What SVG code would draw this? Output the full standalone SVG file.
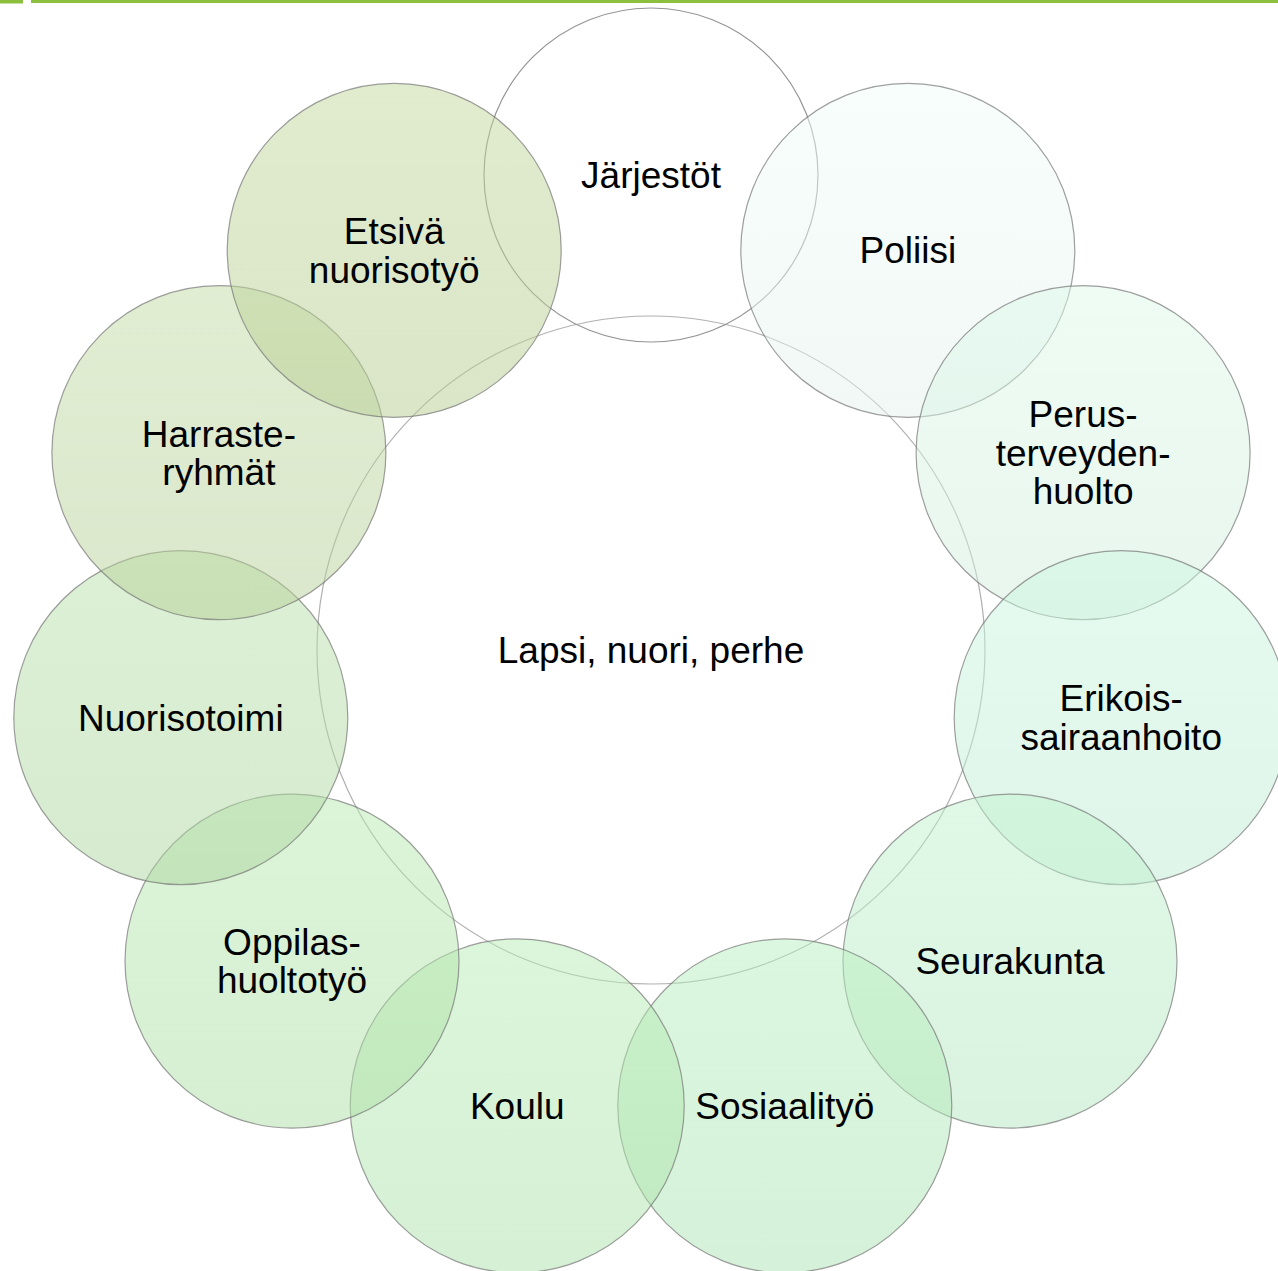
<svg xmlns="http://www.w3.org/2000/svg" width="1278" height="1271" viewBox="0 0 1278 1271">
<style>
.bg{fill:#ffffff}
.center{fill:none;stroke:#b0b0b0;stroke-width:1.2}
.node{stroke:#767676;stroke-opacity:0.7;stroke-width:1.2;fill-opacity:0.5}
.n0{fill:none;stroke:#949494;stroke-opacity:1}
.lbl{font-family:"Liberation Sans",Arial,sans-serif;font-size:37px;fill:#000000;text-anchor:middle}
.bar{fill:#8cbf3e}
</style>
<defs>
<linearGradient id="g1" x1="0" y1="0" x2="0" y2="1"><stop offset="0" stop-color="#effdf9"/><stop offset="1" stop-color="#e3f1ed"/></linearGradient>
<linearGradient id="g2" x1="0" y1="0" x2="0" y2="1"><stop offset="0" stop-color="#ddf9e9"/><stop offset="1" stop-color="#d1eddd"/></linearGradient>
<linearGradient id="g3" x1="0" y1="0" x2="0" y2="1"><stop offset="0" stop-color="#cdf7df"/><stop offset="1" stop-color="#c1ebd3"/></linearGradient>
<linearGradient id="g4" x1="0" y1="0" x2="0" y2="1"><stop offset="0" stop-color="#c1f3cf"/><stop offset="1" stop-color="#b5e7c3"/></linearGradient>
<linearGradient id="g5" x1="0" y1="0" x2="0" y2="1"><stop offset="0" stop-color="#b9efbf"/><stop offset="1" stop-color="#ade3b3"/></linearGradient>
<linearGradient id="g6" x1="0" y1="0" x2="0" y2="1"><stop offset="0" stop-color="#b7edb5"/><stop offset="1" stop-color="#abe1a9"/></linearGradient>
<linearGradient id="g7" x1="0" y1="0" x2="0" y2="1"><stop offset="0" stop-color="#b9e9b1"/><stop offset="1" stop-color="#addda5"/></linearGradient>
<linearGradient id="g8" x1="0" y1="0" x2="0" y2="1"><stop offset="0" stop-color="#b9e2ab"/><stop offset="1" stop-color="#add69f"/></linearGradient>
<linearGradient id="g9" x1="0" y1="0" x2="0" y2="1"><stop offset="0" stop-color="#c3dca5"/><stop offset="1" stop-color="#b7d099"/></linearGradient>
<linearGradient id="g10" x1="0" y1="0" x2="0" y2="1"><stop offset="0" stop-color="#c3d99f"/><stop offset="1" stop-color="#b7cd93"/></linearGradient>
</defs>
<rect class="bg" x="0" y="0" width="1278" height="1271"/>
<g id="header">
<rect class="bar" x="0" y="0" width="23" height="3.5"/>
<rect class="bar" x="31" y="0" width="1247" height="3"/>
</g>
<g id="connectors"></g>
<g id="center-node">
<circle class="center" cx="651" cy="650" r="334"/>
<text class="lbl" x="651" y="663">Lapsi, nuori, perhe</text>
</g>
<g id="node-jarjestot">
<circle class="node n0" cx="651" cy="175" r="167"/>
<text class="lbl" x="651" y="188">Järjestöt</text>
</g>
<g id="node-poliisi">
<circle class="node" fill="url(#g1)" cx="907.8" cy="250.4" r="167"/>
<text class="lbl" x="907.8" y="263.4">Poliisi</text>
</g>
<g id="node-perusterveydenhuolto">
<circle class="node" fill="url(#g2)" cx="1083.1" cy="452.7" r="167"/>
<text class="lbl" x="1083.1" y="427.2">Perus-</text>
<text class="lbl" x="1083.1" y="465.7">terveyden-</text>
<text class="lbl" x="1083.1" y="504.2">huolto</text>
</g>
<g id="node-erikoissairaanhoito">
<circle class="node" fill="url(#g3)" cx="1121.2" cy="717.6" r="167"/>
<text class="lbl" x="1121.2" y="711.4">Erikois-</text>
<text class="lbl" x="1121.2" y="749.9">sairaanhoito</text>
</g>
<g id="node-seurakunta">
<circle class="node" fill="url(#g4)" cx="1010" cy="961.1" r="167"/>
<text class="lbl" x="1010" y="974.1">Seurakunta</text>
</g>
<g id="node-sosiaalityo">
<circle class="node" fill="url(#g5)" cx="784.8" cy="1105.8" r="167"/>
<text class="lbl" x="784.8" y="1118.8">Sosiaalityö</text>
</g>
<g id="node-koulu">
<circle class="node" fill="url(#g6)" cx="517.2" cy="1105.8" r="167"/>
<text class="lbl" x="517.2" y="1118.8">Koulu</text>
</g>
<g id="node-oppilashuoltotyo">
<circle class="node" fill="url(#g7)" cx="292" cy="961.1" r="167"/>
<text class="lbl" x="292" y="954.9">Oppilas-</text>
<text class="lbl" x="292" y="993.4">huoltotyö</text>
</g>
<g id="node-nuorisotoimi">
<circle class="node" fill="url(#g8)" cx="180.8" cy="717.6" r="167"/>
<text class="lbl" x="180.8" y="730.6">Nuorisotoimi</text>
</g>
<g id="node-harrasteryhmat">
<circle class="node" fill="url(#g9)" cx="218.9" cy="452.7" r="167"/>
<text class="lbl" x="218.9" y="446.5">Harraste-</text>
<text class="lbl" x="218.9" y="485">ryhmät</text>
</g>
<g id="node-etsiva-nuorisotyo">
<circle class="node" fill="url(#g10)" cx="394.2" cy="250.4" r="167"/>
<text class="lbl" x="394.2" y="244.2">Etsivä</text>
<text class="lbl" x="394.2" y="282.7">nuorisotyö</text>
</g>
</svg>
